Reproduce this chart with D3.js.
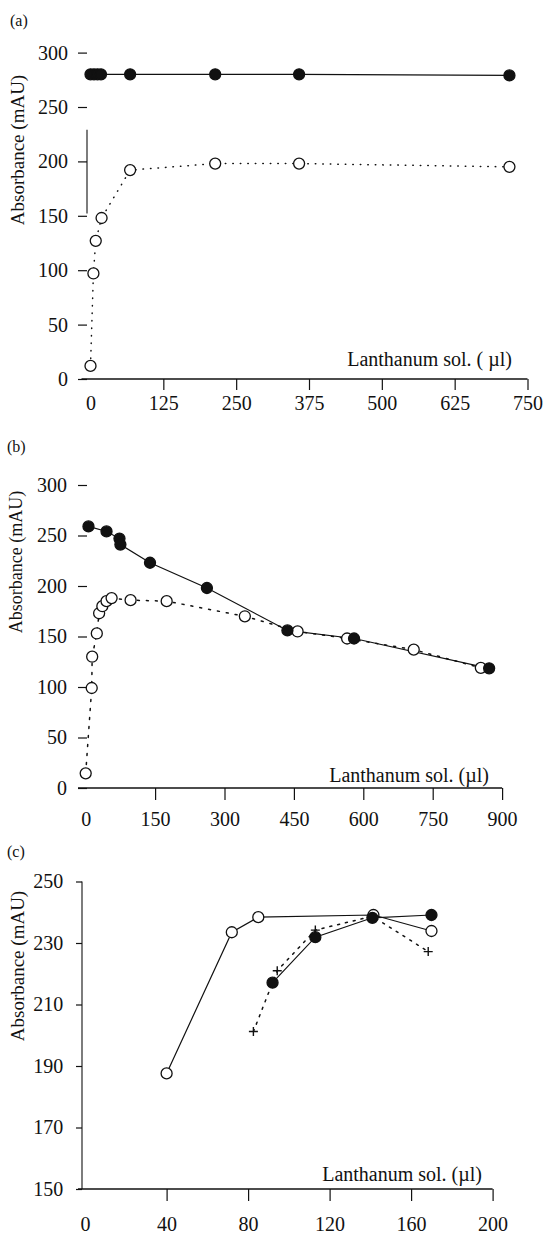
<!DOCTYPE html>
<html><head><meta charset="utf-8">
<script src="https://cdn.jsdelivr.net/npm/d3@7"></script>
<style>
html,body{margin:0;padding:0;background:#fff;}
svg text{font-family:"Liberation Serif","Times New Roman",serif;fill:#111;}
</style></head>
<body>
<svg id="chart" width="544" height="1236"></svg>
<script>
// ---------- data ----------
// panel (a)
const aTicksX = [0, 125, 250, 375, 500, 625, 750];
const aTicksY = [0, 50, 100, 150, 200, 250, 300];
const aFilledX = [0, 6, 12, 18, 68, 214, 358, 719];
const aFilledY = [280, 280, 280, 280, 280, 280, 280, 279];
const aOpenX = [0, 5, 9, 19, 68, 214, 358, 719];
const aOpenY = [12, 97, 127, 148, 192, 198, 198, 195];
// panel (b)
const bTicksX = [0, 150, 300, 450, 600, 750, 900];
const bTicksY = [0, 50, 100, 150, 200, 250, 300];
const bFilledX = [6, 45, 73, 75, 139, 262, 436, 580, 872];
const bFilledY = [259, 254, 247, 241, 223, 198, 156, 148, 118.5];
const bOpenX = [0, 13, 14, 24, 29, 36, 45, 56, 97, 175, 344, 458, 565, 709, 854];
const bOpenY = [14.5, 99, 130, 153, 173, 180, 185, 188, 186, 185, 170, 155, 148, 137, 119];
// panel (c)
const cTicksX = [0, 40, 80, 120, 160, 200];
const cTicksY = [150, 170, 190, 210, 230, 250];
const cOpenX = [40, 72, 85, 141.5, 170];
const cOpenY = [187.6, 233.5, 238.4, 239.1, 233.9];
const cFilledX = [92, 113, 141, 170];
const cFilledY = [217.1, 231.9, 238.2, 239.1];
const cPlusX = [82.6, 94.3, 113, 141, 168.4];
const cPlusY = [201.2, 221, 234.2, 238.7, 227.2];

const yTitle = "Absorbance (mAU)";
const ink = "#111";
const svg = d3.select("#chart");

function zip(xs, ys){ return xs.map((x,i)=>[x, ys[i]]); }

function panel(cfg){
  const g = svg.append("g");
  const x = d3.scaleLinear().domain(cfg.xDomain).range(cfg.xRange);
  const y = d3.scaleLinear().domain(cfg.yDomain).range(cfg.yRange);
  // panel letter
  g.append("text").attr("x", cfg.letterPos[0]).attr("y", cfg.letterPos[1])
    .attr("font-size", 16).text(cfg.letter);
  // y axis
  const ya = g.append("g").attr("transform", `translate(${cfg.yAxisX},0)`)
    .call(d3.axisLeft(y).tickValues(cfg.yTicks).tickSize(cfg.yTickSize).tickPadding(cfg.yPad).tickFormat(d3.format("d")));
  ya.select(".domain").remove();
  ya.selectAll("line").attr("stroke", ink).attr("stroke-width", 1.2);
  ya.selectAll("text").attr("font-size", 20).style("font-family", '"Liberation Serif",serif').attr("fill", ink);
  if (cfg.yLine) {
    g.append("line").attr("x1", cfg.yAxisX).attr("x2", cfg.yAxisX)
      .attr("y1", y(cfg.yLine[0])).attr("y2", y(cfg.yLine[1]))
      .attr("stroke", ink).attr("stroke-width", 1.1);
  }
  // x axis
  const xa = g.append("g").attr("transform", `translate(0,${cfg.yRange[0]})`)
    .call(d3.axisBottom(x).tickValues(cfg.xTicks).tickSize(cfg.xTickSize).tickSizeOuter(0).tickFormat(d3.format("d")));
  xa.select(".domain").remove();
  xa.selectAll(".tick line").attr("stroke", ink).attr("stroke-width", 1.2)
    .filter(d => d === cfg.xDomain[0]).remove();
  xa.selectAll("text").attr("font-size", 20).attr("dy", null).attr("y", cfg.xLabelY)
    .style("font-family", '"Liberation Serif",serif').attr("fill", ink);
  g.append("line").attr("x1", cfg.xLineStart).attr("x2", x(cfg.xDomain[1]))
    .attr("y1", cfg.yRange[0]).attr("y2", cfg.yRange[0])
    .attr("stroke", ink).attr("stroke-width", 1.4);
  // titles
  g.append("text").attr("text-anchor", "middle").attr("font-size", cfg.yTitleSize)
    .attr("transform", `translate(${cfg.yTitlePos[0]},${cfg.yTitlePos[1]}) rotate(-90)`)
    .text(yTitle);
  g.append("text").attr("text-anchor", "end").attr("font-size", 20)
    .attr("x", cfg.xTitlePos[0]).attr("y", cfg.xTitlePos[1]).text(cfg.xTitle);
  const line = d3.line().x(d => x(d[0])).y(d => y(d[1]));
  // series
  cfg.series.forEach(s => {
    const pts = zip(s.xs, s.ys);
    g.append("path").datum(pts).attr("d", line).attr("fill", "none")
      .attr("stroke", ink).attr("stroke-width", s.dash ? 1.5 : 1.2)
      .attr("stroke-dasharray", s.dash || null).attr("stroke-linecap", s.dash ? "round" : "butt");
  });
  cfg.series.forEach(s => {
    const pts = zip(s.xs, s.ys);
    if (s.marker === "plus") {
      g.selectAll(null).data(pts).enter().append("path")
        .attr("d", d => `M${x(d[0])-4.5},${y(d[1])}H${x(d[0])+4.5}M${x(d[0])},${y(d[1])-4.5}V${y(d[1])+4.5}`)
        .attr("stroke", ink).attr("stroke-width", 1.4).attr("fill", "none");
    } else {
      g.selectAll(null).data(pts).enter().append("circle")
        .attr("cx", d => x(d[0])).attr("cy", d => y(d[1])).attr("r", 5.5)
        .attr("fill", s.marker === "filled" ? ink : "#fff")
        .attr("stroke", ink).attr("stroke-width", 1.3);
    }
  });
}

panel({
  letter: "(a)", letterPos: [10, 26],
  xDomain: [0, 750], xRange: [90.5, 527.5], yDomain: [0, 300], yRange: [379, 52.6],
  xTicks: aTicksX, yTicks: aTicksY, yAxisX: 87, yTickSize: 9, yPad: 10, yLine: [229, 152],
  xTickSize: 11, xLabelY: 31, xLineStart: 81.5,
  yTitlePos: [24, 150], yTitleSize: 19,
  xTitle: "Lanthanum sol. ( \u00b5l)", xTitlePos: [512, 366],
  series: [
    {xs: aOpenX, ys: aOpenY, marker: "open", dash: "0.5,7"},
    {xs: aFilledX, ys: aFilledY, marker: "filled"}
  ]
});

panel({
  letter: "(b)", letterPos: [7, 452],
  xDomain: [0, 900], xRange: [85.7, 502.1], yDomain: [0, 300], yRange: [788, 485],
  xTicks: bTicksX, yTicks: bTicksY, yAxisX: 87, yTickSize: 9, yPad: 11, yLine: null,
  xTickSize: 12, xLabelY: 38, xLineStart: 78,
  yTitlePos: [22, 562], yTitleSize: 18,
  xTitle: "Lanthanum sol. (\u00b5l)", xTitlePos: [489, 782],
  series: [
    {xs: bOpenX, ys: bOpenY, marker: "open", dash: "2,7"},
    {xs: bFilledX, ys: bFilledY, marker: "filled"}
  ]
});

panel({
  letter: "(c)", letterPos: [7, 857],
  xDomain: [0, 200], xRange: [85.1, 492.6], yDomain: [150, 250], yRange: [1189, 881.5],
  xTicks: cTicksX, yTicks: cTicksY, yAxisX: 82, yTickSize: 6, yPad: 12.7, yLine: [250, 150],
  xTickSize: 12, xLabelY: 42, xLineStart: 78,
  yTitlePos: [24, 966], yTitleSize: 19,
  xTitle: "Lanthanum sol. (\u00b5l)", xTitlePos: [482, 1181],
  series: [
    {xs: cPlusX, ys: cPlusY, marker: "plus", dash: "2,6"},
    {xs: cOpenX, ys: cOpenY, marker: "open"},
    {xs: cFilledX, ys: cFilledY, marker: "filled"}
  ]
});
</script>
</body></html>
